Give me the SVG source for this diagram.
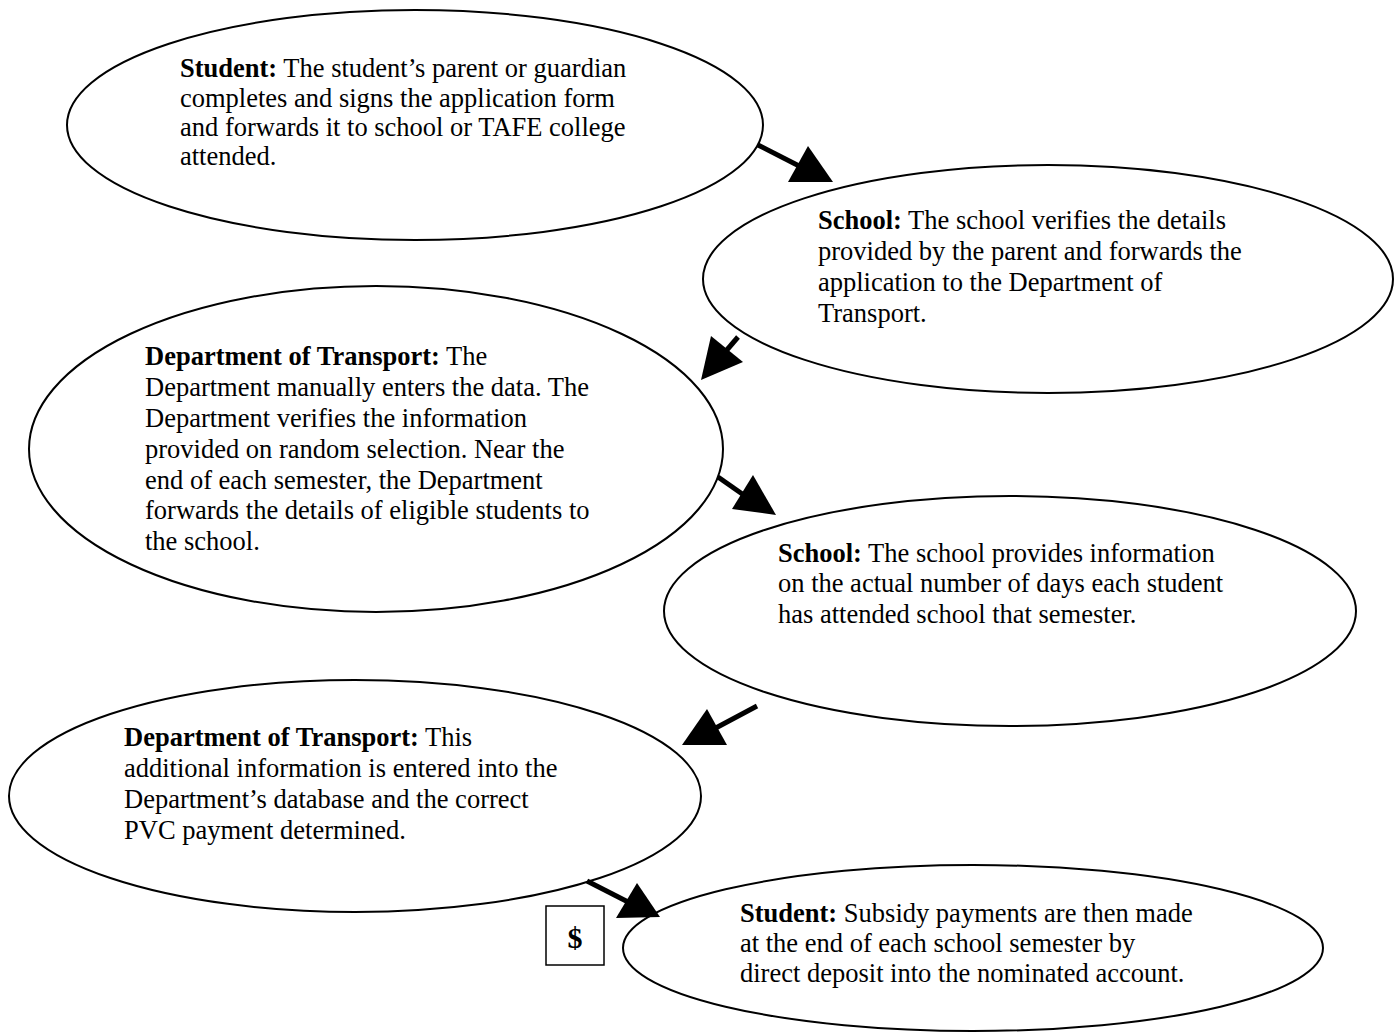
<svg xmlns="http://www.w3.org/2000/svg" width="1398" height="1032" viewBox="0 0 1398 1032">
<style>
.n{fill:#fff;stroke:#000;stroke-width:2}
.t{font-family:"Liberation Serif","Times New Roman",serif;font-size:26.5px;fill:#000}
.b{font-weight:bold}
.sh{stroke:#000;stroke-width:5;fill:none}
.hd{fill:#000;stroke:none}
</style>
<rect width="1398" height="1032" fill="#fff"/>
<g id="node1">
<ellipse class="n" cx="415" cy="125" rx="348" ry="115"/>
<text class="t" x="180" y="77"><tspan class="b">Student:</tspan> The student’s parent or guardian</text>
<text class="t" x="180" y="107">completes and signs the application form</text>
<text class="t" x="180" y="136">and forwards it to school or TAFE college</text>
<text class="t" x="180" y="165">attended.</text>
</g>
<g id="node2">
<ellipse class="n" cx="1048" cy="279" rx="345" ry="114"/>
<text class="t" x="818" y="229"><tspan class="b">School:</tspan> The school verifies the details</text>
<text class="t" x="818" y="260">provided by the parent and forwards the</text>
<text class="t" x="818" y="291">application to the Department of</text>
<text class="t" x="818" y="322">Transport.</text>
</g>
<g id="node3">
<ellipse class="n" cx="376" cy="449" rx="347" ry="163"/>
<text class="t" x="145" y="365"><tspan class="b">Department of Transport:</tspan> The</text>
<text class="t" x="145" y="396">Department manually enters the data. The</text>
<text class="t" x="145" y="427">Department verifies the information</text>
<text class="t" x="145" y="458">provided on random selection. Near the</text>
<text class="t" x="145" y="489">end of each semester, the Department</text>
<text class="t" x="145" y="519">forwards the details of eligible students to</text>
<text class="t" x="145" y="550">the school.</text>
</g>
<g id="node4">
<ellipse class="n" cx="1010" cy="611" rx="346" ry="115"/>
<text class="t" x="778" y="562"><tspan class="b">School:</tspan> The school provides information</text>
<text class="t" x="778" y="592">on the actual number of days each student</text>
<text class="t" x="778" y="623">has attended school that semester.</text>
</g>
<g id="node5">
<ellipse class="n" cx="355" cy="796" rx="346" ry="116"/>
<text class="t" x="124" y="746"><tspan class="b">Department of Transport:</tspan> This</text>
<text class="t" x="124" y="777">additional information is entered into the</text>
<text class="t" x="124" y="808">Department’s database and the correct</text>
<text class="t" x="124" y="839">PVC payment determined.</text>
</g>
<g id="node6">
<ellipse class="n" cx="973" cy="948" rx="350" ry="83"/>
<text class="t" x="740" y="922"><tspan class="b">Student:</tspan> Subsidy payments are then made</text>
<text class="t" x="740" y="952">at the end of each school semester by</text>
<text class="t" x="740" y="982">direct deposit into the nominated account.</text>
</g>
<g id="dollar">
<rect x="546" y="906" width="58" height="59" fill="#fff" stroke="#000" stroke-width="1.5"/>
<text class="t b" x="575" y="948" text-anchor="middle" style="font-size:30px">$</text>
</g>
<g id="connectors">
<line class="sh" x1="758" y1="145" x2="805" y2="169"/>
<polygon class="hd" points="808,146 788,182 833,182"/>
<line class="sh" x1="738" y1="337" x2="720" y2="358"/>
<polygon class="hd" points="711,336 743,362 701,380"/>
<line class="sh" x1="718" y1="477" x2="748" y2="498"/>
<polygon class="hd" points="753,475 732,509 776,515"/>
<line class="sh" x1="757" y1="706" x2="712" y2="730"/>
<polygon class="hd" points="707,709 727,745 682,745"/>
<line class="sh" x1="587" y1="881" x2="632" y2="904"/>
<polygon class="hd" points="637,883 616,918 660,917"/>
</g>
</svg>
